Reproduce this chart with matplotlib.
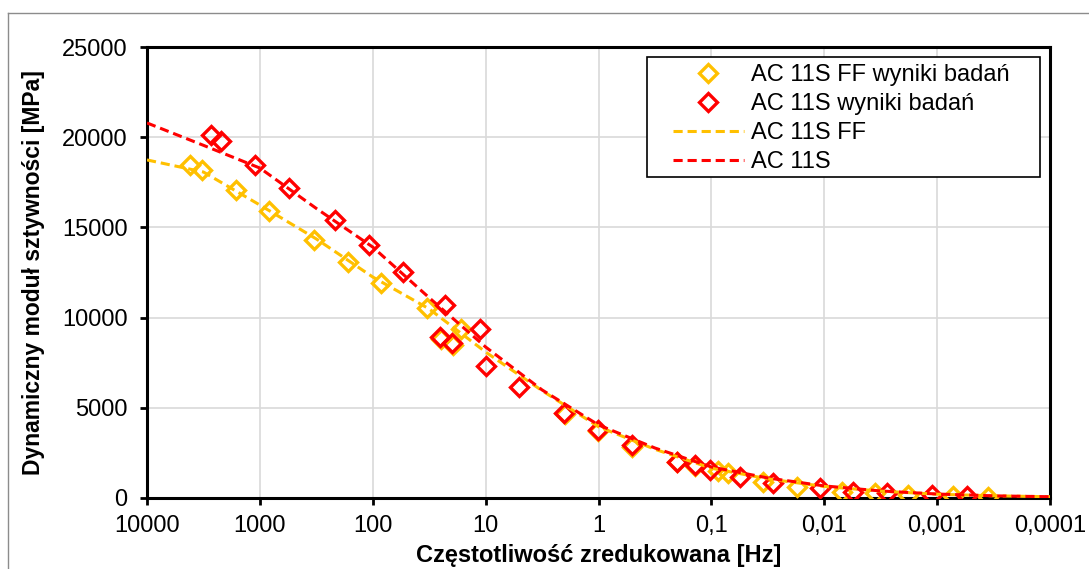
import numpy as np
import matplotlib
matplotlib.use("Agg")
import matplotlib.pyplot as plt
from matplotlib.lines import Line2D
from matplotlib.patches import Rectangle

plt.rcParams['font.family'] = ['Liberation Sans', 'DejaVu Sans']

# measured points: reduced frequency [Hz] and stiffness modulus [MPa]
ff_freq = [4160, 3260, 1625, 830, 331, 166, 84.5, 33, 24.8, 19.4, 16.5,
           1.98, 1.01, 0.505, 0.201, 0.140, 0.0873, 0.0713, 0.0349, 0.0174,
           0.00697, 0.00355, 0.00181, 0.000723, 0.000354]
ff_E = [18460, 18180, 17070, 15910, 14300, 13080, 11920, 10530, 8810, 8480, 9370,
        4660, 3710, 2830, 2000, 1770, 1500, 1390, 890, 610,
        330, 280, 160, 100, 70]

ref_freq = [2710, 2210, 1105, 552, 216, 108, 54, 22.9, 25.4, 19.9, 11.2, 9.93,
            5.06, 2.02, 1.01, 0.505, 0.201, 0.140, 0.103, 0.0557, 0.0284, 0.0109,
            0.00556, 0.00278, 0.00111, 0.000543]
ref_E = [20120, 19790, 18460, 17180, 15410, 14020, 12530, 10700, 8920, 8590, 9370, 7320,
         6150, 4710, 3770, 2940, 2000, 1830, 1550, 1160, 830, 550,
         330, 300, 170, 110]

# master curves
curve_freq = [1e4, 3162, 1e3, 316, 1e2, 31.6, 10, 3.16, 1, 0.316, 0.1,
              0.0316, 0.01, 0.00316, 0.001, 0.000316, 0.0001]
ff_curve = [18740, 18070, 16240, 14360, 12250, 10480, 8090, 5950, 3950, 2700, 1650,
            1060, 640, 380, 210, 120, 70]
ref_curve = [20790, 19550, 18290, 16050, 13910, 11100, 8370, 5990, 4050, 2770, 1720,
             1110, 670, 390, 220, 120, 70]

xticks = [1e4, 1e3, 1e2, 10, 1, 0.1, 0.01, 0.001, 0.0001]
xticklabels = ['10000', '1000', '100', '10', '1', '0,1', '0,01', '0,001', '0,0001']

yellow = '#FFC000'
red = '#FF0000'

fig = plt.figure(figsize=(10.89, 5.69), dpi=100)
ax = fig.add_axes([147 / 1089, 1 - 498 / 569, 903 / 1089, 451 / 569])

mk = dict(marker='D', ms=9, mew=2.4, mfc='none', ls='none')
ax.plot(ff_freq, ff_E, color=yellow, label='AC 11S FF wyniki badań', zorder=3, **mk)
ax.plot(ref_freq, ref_E, color=red, label='AC 11S wyniki badań', zorder=4, **mk)
l1, = ax.plot(curve_freq, ff_curve, color=yellow, lw=2.2, ls='--', label='AC 11S FF', zorder=5)
l2, = ax.plot(curve_freq, ref_curve, color=red, lw=2.2, ls='--', label='AC 11S', zorder=6)
for ln in (l1, l2):
    ln.set_dashes((3, 1.6))

ax.set_xscale('log')
ax.set_xlim(1e4, 1e-4)
ax.set_ylim(0, 25000)
ax.set_xticks(xticks)
ax.set_xticklabels(xticklabels)
ax.xaxis.set_minor_locator(matplotlib.ticker.NullLocator())
ax.set_yticks(np.arange(0, 25001, 5000))

ax.grid(True, color='#d9d9d9', lw=1.2)
ax.set_axisbelow(True)
for s in ax.spines.values():
    s.set_linewidth(2.2)
    s.set_color('black')
ax.tick_params(axis='both', direction='out', length=5, width=2, labelsize=17)
ax.tick_params(axis='y', pad=9)
ax.tick_params(axis='x', pad=7)

ax.set_xlabel('Częstotliwość zredukowana [Hz]', fontsize=17, fontweight='bold', labelpad=5)
ax.set_ylabel('Dynamiczny moduł sztywności [MPa]', fontsize=16.5, fontweight='bold', labelpad=12)

# legend box drawn separately so the left padding can be wider than the vertical one
ax.add_patch(Rectangle((0.554, 0.712), 0.435, 0.266, transform=ax.transAxes,
                       facecolor='white', edgecolor='black', lw=1.2, zorder=9))
leg = ax.legend(loc='upper left', bbox_to_anchor=(0.5825, 0.962), borderaxespad=0,
                fontsize=17, frameon=False, handlelength=3.0,
                handletextpad=0.3, labelspacing=0.3, borderpad=0)
leg.set_zorder(10)

# outer chart frame
fig.add_artist(Line2D([8 / 1089, 1], [1 - 13 / 569, 1 - 13 / 569], color='#8c8c8c', lw=1))
fig.add_artist(Line2D([8 / 1089, 8 / 1089], [0, 1 - 13 / 569], color='#8c8c8c', lw=1))

fig.savefig('out.png', dpi=100)
